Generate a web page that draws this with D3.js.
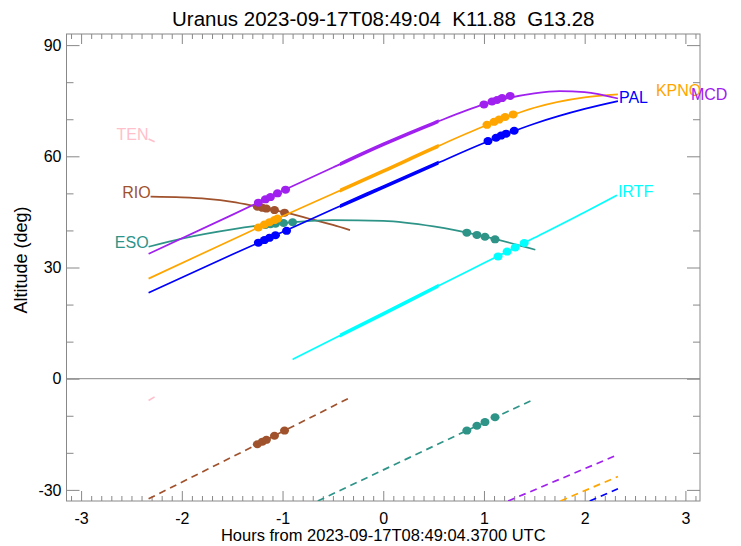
<!DOCTYPE html>
<html>
<head>
<meta charset="utf-8">
<script src="https://cdn.jsdelivr.net/npm/d3@7"></script>
<style>
body { margin: 0; background: #fff; }
text { font-family: "Liberation Sans", Arial, sans-serif; }
</style>
</head>
<body>
<svg id="chart" width="741" height="546"></svg>
<script>
var chartWidth = 741;
var chartHeight = 546;

// ---- data (hours from epoch, altitude in deg) ----
var titleText = "Uranus 2023-09-17T08:49:04  K11.88  G13.28";
var xLabelText = "Hours from 2023-09-17T08:49:04.3700 UTC";
var yLabelText = "Altitude (deg)";

var stations = ["TEN", "RIO", "ESO", "PAL", "KPNO", "MCD", "IRTF"];

var xMajorTicks = [-3, -2, -1, 0, 1, 2, 3];
var yMajorTicks = [-30, 0, 30, 60, 90];
var yMinorTicks = [-20, -10, 10, 20, 40, 50, 70, 80];

// object altitude curves
var tenHours = [-2.33, -2.27];
var tenAlt = [64.7, 63.9];
var rioHours = [-2.31, -2.0, -1.75, -1.5, -1.25, -1.0, -0.75, -0.5, -0.33];
var rioAlt = [49.1, 48.9, 48.5, 47.7, 46.4, 45.0, 43.3, 41.5, 40.1];
var esoHours = [-2.33, -2.0, -1.5, -1.0, -0.5, 0, 0.5, 1.0, 1.51];
var esoAlt = [35.6, 37.8, 40.3, 42.0, 42.8, 42.6, 41.1, 38.4, 34.8];
var palHours = [-2.33, -1.5, -1.0, -0.5, 0, 0.5, 1.0, 1.5, 2.0, 2.33];
var palAlt = [23.2, 33.5, 39.6, 45.7, 51.7, 57.7, 63.6, 68.8, 72.8, 74.9];
var kpnoHours = [-2.33, -1.5, -1.0, -0.5, 0, 0.5, 1.0, 1.5, 2.0, 2.33];
var kpnoAlt = [27.0, 37.5, 43.8, 49.9, 56.0, 62.2, 68.1, 73.1, 75.9, 76.7];
var mcdHours = [-2.33, -1.5, -1.0, -0.5, 0, 0.5, 1.0, 1.5, 1.75, 2.0, 2.33];
var mcdAlt = [33.7, 44.2, 50.7, 57.0, 63.2, 68.9, 74.0, 77.0, 77.6, 77.3, 75.6];
var irtfHours = [-0.9, 0, 0.5, 1.0, 1.5, 2.0, 2.32];
var irtfAlt = [5.2, 17.5, 24.4, 31.2, 38.0, 44.9, 49.5];

// lower dashed curves (visible part only)
var tenLowHours = [-2.33, -2.27];
var tenLowAlt = [-5.9, -4.9];
var rioLowHours = [-2.33, -1.25, -0.33];
var rioLowAlt = [-32.4, -17.7, -5.1];
var esoLowHours = [-0.65, 0.83, 1.47];
var esoLowAlt = [-33.0, -14.0, -5.9];
var palLowHours = [2.05, 2.33];
var palLowAlt = [-33.0, -29.7];
var kpnoLowHours = [1.76, 2.33];
var kpnoLowAlt = [-33.0, -26.4];
var mcdLowHours = [1.24, 2.33];
var mcdLowAlt = [-33.0, -20.5];
var irtfLowHours = [];
var irtfLowAlt = [];

// observation markers
var rioDotHours = [-1.25, -1.20, -1.16, -1.08, -0.98];
var rioDotAlt = [46.4, 46.1, 45.9, 45.5, 44.8];
var rioDotLowAlt = [-17.7, -17.0, -16.5, -15.4, -14.0];
var esoDotHours = [-1.17, -1.12, -1.07, -0.99, -0.90, 0.83, 0.93, 1.01, 1.11];
var esoDotAlt = [41.5, 41.7, 41.8, 42.0, 42.2, 39.4, 38.8, 38.3, 37.6];
var esoDotLowAlt = [-48, -47, -46, -45, -44, -14.0, -12.7, -11.7, -10.4];
var palDotHours = [-1.24, -1.18, -1.13, -1.07, -0.96, 1.04, 1.12, 1.17, 1.22, 1.30];
var palDotAlt = [36.7, 37.4, 38.0, 38.7, 39.9, 64.1, 65.0, 65.6, 66.1, 66.9];
var kpnoDotHours = [-1.24, -1.18, -1.13, -1.08, -1.05, 1.03, 1.10, 1.15, 1.21, 1.29];
var kpnoDotAlt = [40.8, 41.6, 42.2, 42.8, 43.2, 68.5, 69.3, 69.9, 70.6, 71.3];
var mcdDotHours = [-1.24, -1.17, -1.12, -1.05, -0.97, 1.0, 1.08, 1.13, 1.18, 1.26];
var mcdDotAlt = [47.5, 48.4, 49.0, 50.0, 51.0, 74.0, 74.8, 75.2, 75.7, 76.3];
var irtfDotHours = [1.14, 1.23, 1.31, 1.40];
var irtfDotAlt = [33.0, 34.3, 35.4, 36.6];

// hours where the good window curve is drawn thicker
var thickHours = [-0.43, 0.55];

// ---- styles ----
var stationStyle = {
  TEN:  {color: "#ffc0cb", side: "left",  dx: 0,  thick: false},
  RIO:  {color: "#a0522d", side: "left",  dx: 0,  thick: false},
  ESO:  {color: "#2e9488", side: "left",  dx: 0,  thick: false},
  PAL:  {color: "#0000ff", side: "right", dx: 0,  thick: true},
  KPNO: {color: "#ffa500", side: "right", dx: 37, thick: true},
  MCD:  {color: "#a020f0", side: "right", dx: 72, thick: true},
  IRTF: {color: "#00ffff", side: "right", dx: 0,  thick: true}
};

var curves = {
  TEN:  {h: tenHours,  a: tenAlt,  lh: tenLowHours,  la: tenLowAlt},
  RIO:  {h: rioHours,  a: rioAlt,  lh: rioLowHours,  la: rioLowAlt,
         dh: rioDotHours, da: rioDotAlt, dl: rioDotLowAlt},
  ESO:  {h: esoHours,  a: esoAlt,  lh: esoLowHours,  la: esoLowAlt,
         dh: esoDotHours, da: esoDotAlt, dl: esoDotLowAlt},
  PAL:  {h: palHours,  a: palAlt,  lh: palLowHours,  la: palLowAlt,
         dh: palDotHours, da: palDotAlt},
  KPNO: {h: kpnoHours, a: kpnoAlt, lh: kpnoLowHours, la: kpnoLowAlt,
         dh: kpnoDotHours, da: kpnoDotAlt},
  MCD:  {h: mcdHours,  a: mcdAlt,  lh: mcdLowHours,  la: mcdLowAlt,
         dh: mcdDotHours, da: mcdDotAlt},
  IRTF: {h: irtfHours, a: irtfAlt, lh: irtfLowHours, la: irtfLowAlt,
         dh: irtfDotHours, da: irtfDotAlt}
};

var axisColor = "#888888";
var margin = {top: 34, right: 41, bottom: 45, left: 66.5};

function zip(hours, alt) {
  return hours.map(function (h, i) { return [h, alt[i]]; });
}

var x = d3.scaleLinear()
  .domain([-3.145, 3.145])
  .range([margin.left, chartWidth - margin.right]);

var y = d3.scaleLinear()
  .domain([-33, 93])
  .range([chartHeight - margin.bottom, margin.top]);

var xMinorTicks = d3.range(-31, 32)
  .filter(function (d) { return d % 10 !== 0; })
  .map(function (d) { return d / 10; });

var svg = d3.select("#chart");
var defs = svg.append("defs");

defs.append("clipPath").attr("id", "plotClip")
  .append("rect")
  .attr("x", x.range()[0]).attr("y", y.range()[1])
  .attr("width", x.range()[1] - x.range()[0])
  .attr("height", y.range()[0] - y.range()[1]);

defs.append("clipPath").attr("id", "thickClip")
  .append("rect")
  .attr("x", x(thickHours[0])).attr("y", y.range()[1])
  .attr("width", x(thickHours[1]) - x(thickHours[0]))
  .attr("height", y.range()[0] - y.range()[1]);

// ---- axes (ticks drawn inward on all four sides) ----
function styleAxis(g) {
  g.select(".domain").remove();
  g.selectAll(".tick line").attr("stroke", axisColor).attr("stroke-width", 1);
  g.selectAll(".tick text").attr("fill", "#000").style("font-size", "16px")
    .style("font-family", "'Liberation Sans', Arial, sans-serif");
}

var plainFormat = function (d) { return String(d); };
var bottomY = y.range()[0];
var topY = y.range()[1];

svg.append("g").attr("transform", "translate(0," + bottomY + ")")
  .call(d3.axisBottom(x).tickValues(xMajorTicks).tickSize(-10).tickPadding(12).tickFormat(plainFormat))
  .call(styleAxis);
svg.append("g").attr("transform", "translate(0," + bottomY + ")")
  .call(d3.axisBottom(x).tickValues(xMinorTicks).tickSize(-5).tickFormat(""))
  .call(styleAxis);
svg.append("g").attr("transform", "translate(0," + topY + ")")
  .call(d3.axisTop(x).tickValues(xMajorTicks).tickSize(-10).tickFormat(""))
  .call(styleAxis);
svg.append("g").attr("transform", "translate(0," + topY + ")")
  .call(d3.axisTop(x).tickValues(xMinorTicks).tickSize(-5).tickFormat(""))
  .call(styleAxis);

svg.append("g").attr("transform", "translate(" + x.range()[0] + ",0)")
  .call(d3.axisLeft(y).tickValues(yMajorTicks).tickSize(-13).tickPadding(5).tickFormat(plainFormat))
  .call(styleAxis);
svg.append("g").attr("transform", "translate(" + x.range()[0] + ",0)")
  .call(d3.axisLeft(y).tickValues(yMinorTicks).tickSize(-7).tickFormat(""))
  .call(styleAxis);
svg.append("g").attr("transform", "translate(" + x.range()[1] + ",0)")
  .call(d3.axisRight(y).tickValues(yMajorTicks).tickSize(-13).tickFormat(""))
  .call(styleAxis);
svg.append("g").attr("transform", "translate(" + x.range()[1] + ",0)")
  .call(d3.axisRight(y).tickValues(yMinorTicks).tickSize(-7).tickFormat(""))
  .call(styleAxis);

// frame
svg.append("rect")
  .attr("x", x.range()[0]).attr("y", topY)
  .attr("width", x.range()[1] - x.range()[0])
  .attr("height", bottomY - topY)
  .attr("fill", "none").attr("stroke", axisColor).attr("stroke-width", 1);

// zero line
svg.append("line")
  .attr("x1", x.range()[0]).attr("x2", x.range()[1])
  .attr("y1", y(0)).attr("y2", y(0))
  .attr("stroke", axisColor).attr("stroke-width", 1);

// ---- curves ----
var line = d3.line()
  .x(function (d) { return x(d[0]); })
  .y(function (d) { return y(d[1]); })
  .curve(d3.curveMonotoneX);

var plot = svg.append("g").attr("clip-path", "url(#plotClip)");

stations.forEach(function (name) {
  var c = curves[name];
  var st = stationStyle[name];
  var pts = zip(c.h, c.a);

  plot.append("path").datum(pts)
    .attr("d", line).attr("fill", "none")
    .attr("stroke", st.color).attr("stroke-width", 1.7);

  if (st.thick) {
    plot.append("path").datum(pts)
      .attr("d", line).attr("fill", "none")
      .attr("clip-path", "url(#thickClip)")
      .attr("stroke", st.color).attr("stroke-width", 3.6);
  }

  if (c.lh.length) {
    plot.append("path").datum(zip(c.lh, c.la))
      .attr("d", line).attr("fill", "none")
      .attr("stroke", st.color).attr("stroke-width", 1.7)
      .attr("stroke-dasharray", "7,5");
  }

  if (c.dh) {
    plot.selectAll(null).data(zip(c.dh, c.da)).enter()
      .append("ellipse")
      .attr("cx", function (d) { return x(d[0]); })
      .attr("cy", function (d) { return y(d[1]); })
      .attr("rx", 4.5).attr("ry", 4)
      .attr("fill", st.color);
  }
  if (c.dl) {
    plot.selectAll(null).data(zip(c.dh, c.dl)).enter()
      .append("ellipse")
      .attr("cx", function (d) { return x(d[0]); })
      .attr("cy", function (d) { return y(d[1]); })
      .attr("rx", 4.5).attr("ry", 4)
      .attr("fill", st.color);
  }
});

// station labels at the ends of the curves
stations.forEach(function (name) {
  var c = curves[name];
  var st = stationStyle[name];
  var i = st.side === "left" ? 0 : c.h.length - 1;
  svg.append("text")
    .attr("x", x(c.h[i]) + (st.side === "left" ? 0 : 1 + st.dx))
    .attr("y", y(c.a[i]) + (st.side === "left" ? 1 : 2))
    .attr("text-anchor", st.side === "left" ? "end" : "start")
    .attr("fill", st.color)
    .style("font-size", "16px")
    .text(name);
});

// ---- titles ----
svg.append("text")
  .attr("x", (x.range()[0] + x.range()[1]) / 2)
  .attr("y", 26)
  .attr("text-anchor", "middle")
  .style("font-size", "20.5px")
  .style("white-space", "pre")
  .text(titleText);

svg.append("text")
  .attr("x", (x.range()[0] + x.range()[1]) / 2)
  .attr("y", 541)
  .attr("text-anchor", "middle")
  .style("font-size", "16.5px")
  .text(xLabelText);

svg.append("text")
  .attr("transform", "translate(27,260) rotate(-90)")
  .attr("text-anchor", "middle")
  .style("font-size", "18px")
  .text(yLabelText);
</script>
</body>
</html>
